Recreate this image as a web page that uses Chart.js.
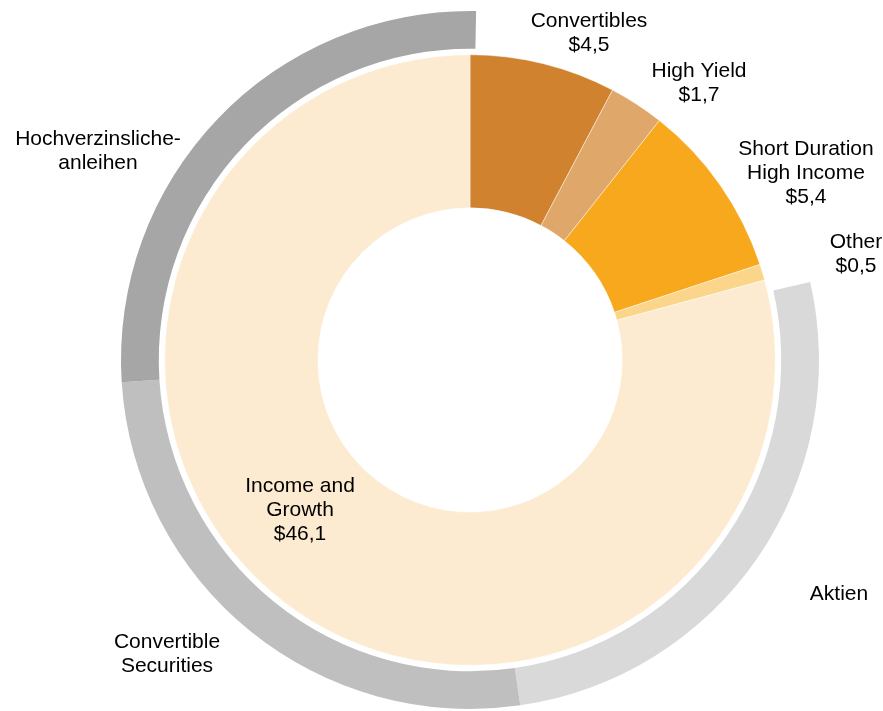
<!DOCTYPE html>
<html>
<head>
<meta charset="utf-8">
<script src="https://cdn.jsdelivr.net/npm/chart.js@4"></script>
<style>
  html, body { margin: 0; padding: 0; background: #fff; }
  #wrap { width: 883px; height: 711px; }
</style>
</head>
<body>
<div id="wrap"><canvas id="chart"></canvas></div>
<script>
// --- Data ---
const innerLabels = ['Convertibles', 'High Yield', 'Short Duration High Income', 'Other', 'Income and Growth'];
const innerValues = [4.5, 1.7, 5.4, 0.5, 46.1];
const innerColors = ['#D0822E', '#DFA86A', '#F7A81C', '#FAD58A', '#FCEBD0'];

// outer ring: first slot is empty (covers the non-equity pieces)
const outerLabels = ['', 'Aktien', 'Convertible Securities', 'Hochverzinsliche-anleihen'];
const outerValues = [12.3, 15.3, 15.3, 15.3];
const outerColors = ['rgba(0,0,0,0)', '#D9D9D9', '#BFBFBF', '#A6A6A6'];

// text blocks: centre x, first baseline y
const labelPos = [
    { lines: ['Convertibles', fmt(innerValues[0])], x: 589, y: 27 },
    { lines: ['High Yield', fmt(innerValues[1])], x: 699, y: 77 },
    { lines: ['Short Duration', 'High Income', fmt(innerValues[2])], x: 806, y: 155 },
    { lines: ['Other', fmt(innerValues[3])], x: 856, y: 248 },
    { lines: ['Income and', 'Growth', fmt(innerValues[4])], x: 300, y: 492 },
    { lines: ['Aktien'], x: 839, y: 600 },
    { lines: ['Convertible', 'Securities'], x: 167, y: 648 },
    { lines: ['Hochverzinsliche-', 'anleihen'], x: 98, y: 145 }
];

function fmt(v) {
    return '$' + v.toFixed(1).replace('.', ',');
}

const textPlugin = {
    id: 'textBlocks',
    afterDraw(chart) {
        const ctx = chart.ctx;
        ctx.save();
        ctx.font = '21px "Liberation Sans", Arial, sans-serif';
        ctx.fillStyle = '#000';
        ctx.textAlign = 'center';
        ctx.textBaseline = 'alphabetic';
        labelPos.forEach(b => {
            b.lines.forEach((t, i) => ctx.fillText(t, b.x, b.y + i * 24));
        });
        ctx.restore();
    }
};

new Chart(document.getElementById('chart'), {
    type: 'doughnut',
    data: {
        labels: innerLabels,
        datasets: [
            {
                label: 'outer',
                data: outerValues,
                backgroundColor: outerColors,
                borderWidth: 0,
                weight: 38,
                rotation: 1
            },
            {
                label: 'gap',
                data: [1],
                backgroundColor: ['rgba(0,0,0,0)'],
                borderWidth: 0,
                weight: 6
            },
            {
                label: 'inner',
                data: innerValues,
                backgroundColor: innerColors,
                borderColor: 'rgba(255,255,255,0.6)',
                borderWidth: 0.75,
                weight: 154
            }
        ]
    },
    options: {
        responsive: true,
        maintainAspectRatio: false,
        animation: false,
        events: [],
        cutout: '43.6%',
        layout: { padding: { top: 11, bottom: 2, left: 57, right: 0 } },
        plugins: {
            legend: { display: false },
            tooltip: { enabled: false }
        }
    },
    plugins: [textPlugin]
});
</script>
</body>
</html>
